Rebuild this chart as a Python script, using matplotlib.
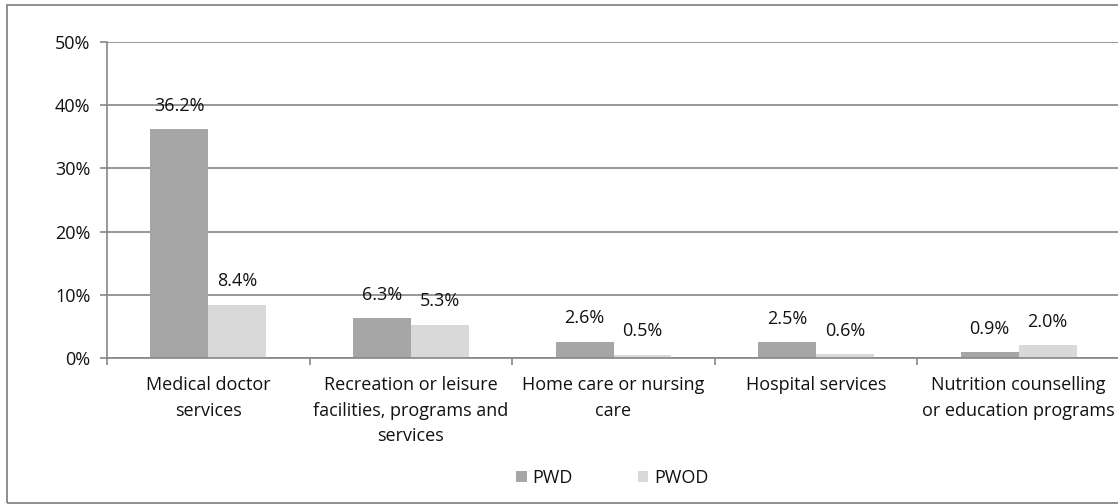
import numpy as np
import matplotlib
matplotlib.use("Agg")
import matplotlib.pyplot as plt
from matplotlib.patches import Rectangle

# ---------------------------------------------------------------------------
# Data
# ---------------------------------------------------------------------------
categories = [
    "Medical doctor\nservices",
    "Recreation or leisure\nfacilities, programs and\nservices",
    "Home care or nursing\ncare",
    "Hospital services",
    "Nutrition counselling\nor education programs",
]
pwd = [36.2, 6.3, 2.6, 2.5, 0.9]
pwod = [8.4, 5.3, 0.5, 0.6, 2.0]
series_names = ["PWD", "PWOD"]
y_ticks = [0, 10, 20, 30, 40, 50]

# ---------------------------------------------------------------------------
# Style
# ---------------------------------------------------------------------------
W, H = 1118, 504
C_PWD = "#a6a6a6"
C_PWOD = "#d9d9d9"
C_GRID = "#868686"
FS = 13
plt.rcParams["font.family"] = ["Open Sans", "DejaVu Sans"]

fig = plt.figure(figsize=(W / 100, H / 100), dpi=100)
fig.patch.set_facecolor("white")

# outer chart border (right edge clipped in the original)
fig.add_artist(Rectangle((7 / W, 1 - 503 / H), 1.2, (503 - 5) / H,
                         transform=fig.transFigure, fill=False,
                         edgecolor=C_GRID, lw=1.3))

ax = fig.add_axes([107 / W, 1 - 358 / H, (1120 - 107) / W, (358 - 42) / H])

x = np.arange(len(categories))
bw = 0.286
b1 = ax.bar(x - bw / 2, pwd, bw, color=C_PWD, label=series_names[0], zorder=2)
b2 = ax.bar(x + bw / 2, pwod, bw, color=C_PWOD, label=series_names[1], zorder=2)

for bars, vals in ((b1, pwd), (b2, pwod)):
    for rect, v in zip(bars, vals):
        ax.annotate(f"{v:.1f}%", (rect.get_x() + rect.get_width() / 2, v),
                    xytext=(0, 17), textcoords="offset points",
                    ha="center", va="center", fontsize=FS, color="#111111")

ax.set_xlim(-0.5, len(categories) - 0.5)
ax.set_ylim(0, 50)
ax.set_yticks(y_ticks)
ax.set_yticklabels([f"{t}%" for t in y_ticks], fontsize=FS, color="#111111")
ax.yaxis.grid(True, color=C_GRID, lw=1.2, zorder=0)
ax.set_axisbelow(True)

# category labels in the middle, ticks at the boundaries
ax.set_xticks(x)
ax.set_xticklabels(categories, fontsize=FS, linespacing=1.55, color="#111111")
ax.tick_params(axis="x", length=0, pad=13)
ax.set_xticks(np.arange(len(categories)) - 0.5, minor=True)
ax.tick_params(axis="x", which="minor", length=5, color=C_GRID, width=1.2)
ax.tick_params(axis="y", length=5, color=C_GRID, width=1.2, pad=7)

for side in ("top", "right"):
    ax.spines[side].set_visible(False)
for side in ("left", "bottom"):
    ax.spines[side].set_color(C_GRID)
    ax.spines[side].set_linewidth(1.2)

fig.legend(handles=[b1, b2], labels=series_names, loc="center",
           bbox_to_anchor=(612 / W, 1 - 478 / H), ncol=2, frameon=False,
           fontsize=FS, handlelength=0.6, handleheight=0.6,
           handletextpad=0.3, columnspacing=3.6, labelcolor="#111111")

fig.savefig("out.png", dpi=100)
